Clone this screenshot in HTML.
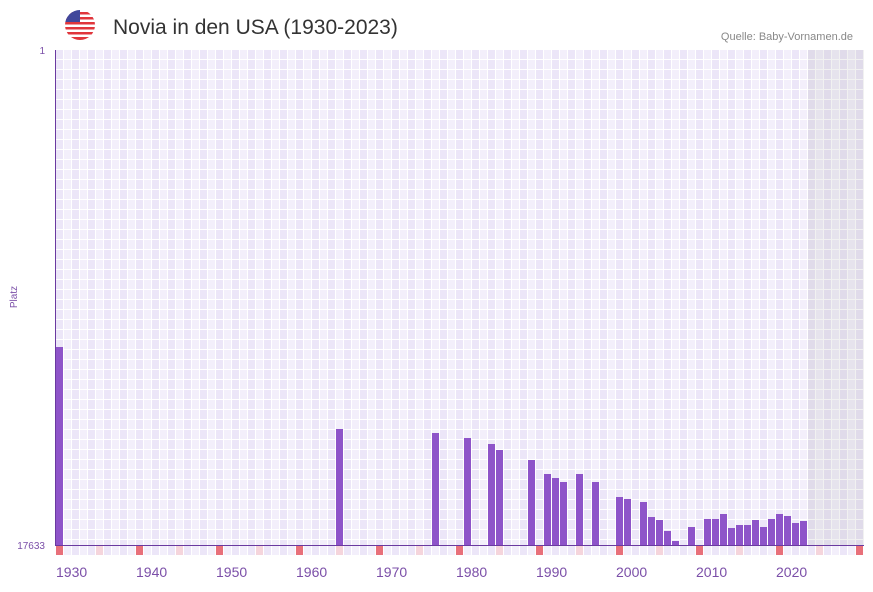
<!DOCTYPE html><html><head><meta charset="utf-8"><style>
body{margin:0;background:#fff;width:873px;height:587px;overflow:hidden;font-family:"Liberation Sans",sans-serif}
</style></head><body>
<svg id="s" width="873" height="587" xmlns="http://www.w3.org/2000/svg">
<defs><clipPath id="c"><circle cx="80" cy="25" r="15"/></clipPath></defs>
<g clip-path="url(#c)">
<rect x="65" y="10" width="30" height="30" fill="#fff"/>
<rect x="65" y="12" width="30" height="2.5" fill="#e0363c"/>
<rect x="65" y="17" width="30" height="2.5" fill="#e0363c"/>
<rect x="65" y="22" width="30" height="2.5" fill="#e0363c"/>
<rect x="65" y="27" width="30" height="2.5" fill="#e0363c"/>
<rect x="65" y="32" width="30" height="2.5" fill="#e0363c"/>
<rect x="65" y="37" width="30" height="3" fill="#e0363c"/>
<rect x="65" y="10" width="15" height="12" fill="#41479b"/>
</g>
<text x="113" y="34" font-size="21" fill="#333">Novia in den USA (1930-2023)</text>
<text x="853" y="40" font-size="11" fill="#888" text-anchor="end">Quelle: Baby-Vornamen.de</text>
<text x="45" y="54" font-size="10" fill="#7b4fa8" text-anchor="end">1</text>
<text x="45" y="549" font-size="10" fill="#7b4fa8" text-anchor="end">17633</text>
<text x="17" y="297" font-size="10" fill="#7b4fa8" text-anchor="middle" transform="rotate(-90 17 297)">Platz</text>
<g id="g"></g>
</svg>
<script>
var g=document.getElementById('g'),h='';
for(var i=0;i<101;i++){var x=56+i*8;if(x>=864)break;
 var col=(i%2)?'#f3effb':'#ece6f8';
 for(var y=50;y<545;y+=10){h+='<rect x="'+x+'" y="'+y+'" width="7" height="'+Math.min(9,545-y)+'" fill="'+col+'"/>';}
 var yr=1930+i,m=yr%10==0?'#e8707a':(yr%5==0?'#f5d5dc':col);
 h+='<rect x="'+x+'" y="546" width="7" height="9" fill="'+m+'"/>';
}
h+='<rect x="808" y="50" width="56" height="495" fill="#888" opacity="0.12"/>';
var d={1930:347,1965:429,1977:433,1981:438,1984:444,1985:450,1989:460,1991:474,1992:478,1993:482,1995:474,1997:482,2000:497,2001:499,2003:502,2004:517,2005:520,2006:531,2007:541,2009:527,2011:519,2012:519,2013:514,2014:528,2015:525,2016:525,2017:520,2018:527,2019:519,2020:514,2021:516,2022:523,2023:521};
for(var k in d){var x=56+(k-1930)*8;h+='<rect x="'+x+'" y="'+d[k]+'" width="7" height="'+(545-d[k])+'" fill="#8e54c9"/>';}
h+='<line x1="55.5" y1="50" x2="55.5" y2="545" stroke="#6a3aa0" stroke-width="1"/>';
h+='<line x1="55" y1="545.5" x2="864" y2="545.5" stroke="#6a3aa0" stroke-width="1"/>';
for(var yr=1930;yr<=2020;yr+=10){h+='<text x="'+(56+(yr-1930)*8)+'" y="577" font-size="14" fill="#7b4fa8">'+yr+'</text>';}
g.innerHTML=h;
</script>
</body></html>
